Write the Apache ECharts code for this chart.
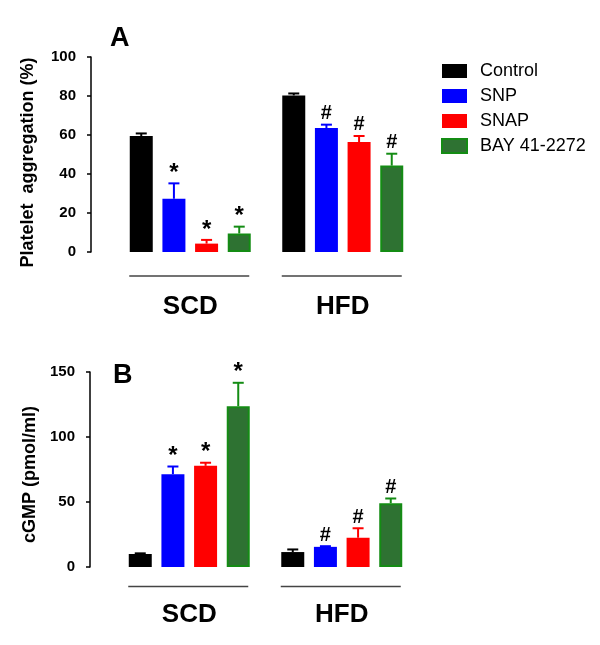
<!DOCTYPE html>
<html><head><meta charset="utf-8">
<script src="https://cdn.jsdelivr.net/npm/echarts@6/dist/echarts.min.js"></script>
<style>html,body{margin:0;padding:0;background:#fff}#c{width:600px;height:645px}</style>
</head><body><div id="c"></div>
<script>
const categories = ['SCD', 'HFD'];
const seriesNames = ['Control', 'SNP', 'SNAP', 'BAY 41-2272'];

// Panel A: platelet aggregation (%)
const aggControl = [59.5, 80.3];
const aggSNP = [27.3, 63.6];
const aggSNAP = [4.3, 56.4];
const aggBAY = [9.5, 44.3];
const aggErrControl = [1.3, 1.0];
const aggErrSNP = [7.9, 1.7];
const aggErrSNAP = [1.9, 3.1];
const aggErrBAY = [3.5, 6.1];
const aggMarksControl = ['', ''];
const aggMarksSNP = ['*', '#'];
const aggMarksSNAP = ['*', '#'];
const aggMarksBAY = ['*', '#'];
const aggTicks = [0, 20, 40, 60, 80, 100];

// Panel B: cGMP (pmol/ml)
const cgmpControl = [10, 11.5];
const cgmpSNP = [71.4, 15.5];
const cgmpSNAP = [77.8, 22.5];
const cgmpBAY = [123.7, 49.1];
const cgmpErrControl = [0.5, 2.0];
const cgmpErrSNP = [5.9, 0.5];
const cgmpErrSNAP = [2.4, 7.3];
const cgmpErrBAY = [18.0, 3.6];
const cgmpMarksControl = ['', ''];
const cgmpMarksSNP = ['*', '#'];
const cgmpMarksSNAP = ['*', '#'];
const cgmpMarksBAY = ['*', '#'];
const cgmpTicks = [0, 50, 100, 150];

const FONT = '"Liberation Sans", Arial, Helvetica, sans-serif';
const barColors = ['#000000', '#0000ff', '#ff0000', '#2e7232'];
const barBorders = ['#000000', '#0000ff', '#ff0000', '#148c14'];
const errColors = ['#000000', '#0000ff', '#ff0000', '#148c14'];
const BAR_W = 23, BAR_GAP = 0.42;

const aggMeans = [aggControl, aggSNP, aggSNAP, aggBAY];
const aggErrs = [aggErrControl, aggErrSNP, aggErrSNAP, aggErrBAY];
const aggMarks = [aggMarksControl, aggMarksSNP, aggMarksSNAP, aggMarksBAY];
const cgmpMeans = [cgmpControl, cgmpSNP, cgmpSNAP, cgmpBAY];
const cgmpErrs = [cgmpErrControl, cgmpErrSNP, cgmpErrSNAP, cgmpErrBAY];
const cgmpMarks = [cgmpMarksControl, cgmpMarksSNP, cgmpMarksSNAP, cgmpMarksBAY];

function buildItems(means, errs, marks) {
  const items = [];
  for (let s = 0; s < means.length; s++) {
    for (let c = 0; c < categories.length; c++) {
      items.push({ cat: c, s: s, mean: means[s][c], top: means[s][c] + errs[s][c], mark: marks[s][c] });
    }
  }
  return items;
}
const aggItems = buildItems(aggMeans, aggErrs, aggMarks);
const cgmpItems = buildItems(cgmpMeans, cgmpErrs, cgmpMarks);

function makeErrRender(items) {
  return function (params, api) {
    const it = items[params.dataIndex];
    const p0 = api.coord([api.value(0), api.value(1)]);
    const p1 = api.coord([api.value(0), api.value(2)]);
    const pitch = BAR_W * (1 + BAR_GAP);
    const x = p0[0] + (it.s - 1.5) * pitch;
    const col = errColors[it.s];
    const children = [
      { type: 'line', shape: { x1: x, y1: p0[1], x2: x, y2: p1[1] }, style: { stroke: col, lineWidth: 2 } },
      { type: 'line', shape: { x1: x - 5.5, y1: p1[1], x2: x + 5.5, y2: p1[1] }, style: { stroke: col, lineWidth: 2 } }
    ];
    if (it.mark) {
      const isStar = it.mark === '*';
      children.push({
        type: 'text', x: x, y: p1[1] - (isStar ? 10 : 11),
        style: { text: it.mark, font: 'bold ' + (isStar ? 24 : 20) + 'px ' + FONT, fill: '#000', align: 'center', verticalAlign: 'middle' }
      });
    }
    return { type: 'group', children: children };
  };
}

function barSeries(means, idx) {
  return means.map((m, s) => ({
    type: 'bar', name: seriesNames[s], xAxisIndex: idx, yAxisIndex: idx,
    data: m, barWidth: BAR_W, barGap: (BAR_GAP * 100) + '%',
    itemStyle: { color: barColors[s], borderColor: barBorders[s], borderWidth: s === 3 ? 2 : 0 },
    z: 2
  }));
}

const yAxisCommon = {
  type: 'value', offset: 23,
  axisLine: { show: true, lineStyle: { color: '#000', width: 1.5 } },
  axisTick: { show: true, length: 4, lineStyle: { color: '#000', width: 1.5 } },
  splitLine: { show: false },
  axisLabel: { color: '#000', fontWeight: 'bold', fontSize: 15, fontFamily: FONT, margin: 15 },
  nameLocation: 'middle', nameRotate: 90
};
const nameStyle = { color: '#000', fontWeight: 'bold', fontSize: 18, fontFamily: FONT };
const xAxisCommon = {
  type: 'category', data: categories,
  axisLine: { show: false }, axisTick: { show: false },
  axisLabel: { color: '#000', fontWeight: 'bold', fontSize: 26, fontFamily: FONT }
};

const option = {
  backgroundColor: '#fff',
  animation: false,
  title: [
    { text: 'A', left: 110, top: 25, padding: 0, textStyle: { fontSize: 27, fontWeight: 'bold', fontFamily: FONT, color: '#000' } },
    { text: 'B', left: 113, top: 362, padding: 0, textStyle: { fontSize: 27, fontWeight: 'bold', fontFamily: FONT, color: '#000' } }
  ],
  legend: {
    data: seriesNames, orient: 'vertical', left: 441, top: 62, padding: 0,
    itemWidth: 25, itemHeight: 14, itemGap: 7, icon: 'rect',
    textStyle: { fontSize: 18, fontFamily: FONT, color: '#000', padding: [0, 0, 0, 8] }
  },
  grid: [
    { left: 114, top: 57, width: 305, height: 195 },
    { left: 113, top: 372, width: 305, height: 195 }
  ],
  xAxis: [
    Object.assign({}, xAxisCommon, { gridIndex: 0, axisLabel: Object.assign({}, xAxisCommon.axisLabel, { margin: 42 }) }),
    Object.assign({}, xAxisCommon, { gridIndex: 1, axisLabel: Object.assign({}, xAxisCommon.axisLabel, { margin: 35 }) })
  ],
  yAxis: [
    Object.assign({}, yAxisCommon, { gridIndex: 0, min: aggTicks[0], max: aggTicks[aggTicks.length - 1], interval: aggTicks[1] - aggTicks[0],
      name: 'Platelet  aggregation (%)', nameGap: 54, nameTextStyle: Object.assign({}, nameStyle, { padding: [0, 16, 0, 0] }) }),
    Object.assign({}, yAxisCommon, { gridIndex: 1, min: cgmpTicks[0], max: cgmpTicks[cgmpTicks.length - 1], interval: cgmpTicks[1] - cgmpTicks[0],
      name: 'cGMP (pmol/ml)', nameGap: 48, nameTextStyle: Object.assign({}, nameStyle, { padding: [0, 10, 0, 0] }) })
  ],
  series: [].concat(
    barSeries(aggMeans, 0),
    barSeries(cgmpMeans, 1),
    [
      { type: 'custom', name: 'errA', xAxisIndex: 0, yAxisIndex: 0, renderItem: makeErrRender(aggItems),
        data: aggItems.map(i => [i.cat, i.mean, i.top]), z: 3, encode: { x: 0, y: [1, 2] } },
      { type: 'custom', name: 'errB', xAxisIndex: 1, yAxisIndex: 1, renderItem: makeErrRender(cgmpItems),
        data: cgmpItems.map(i => [i.cat, i.mean, i.top]), z: 3, encode: { x: 0, y: [1, 2] } }
    ]
  )
};

const chart = echarts.init(document.getElementById('c'), null, { renderer: 'canvas' });
chart.setOption(option);

// group underlines computed from the axes
function groupLines(axisIdx, below) {
  const y = chart.convertToPixel({ yAxisIndex: axisIdx }, 0) + below;
  return categories.map(c => {
    const cx = chart.convertToPixel({ xAxisIndex: axisIdx }, c);
    return { type: 'line', shape: { x1: cx - 61, y1: y, x2: cx + 59, y2: y }, style: { stroke: '#444', lineWidth: 1.5 } };
  });
}
chart.setOption({ graphic: [].concat(groupLines(0, 24), groupLines(1, 19.5)) });
</script></body></html>
